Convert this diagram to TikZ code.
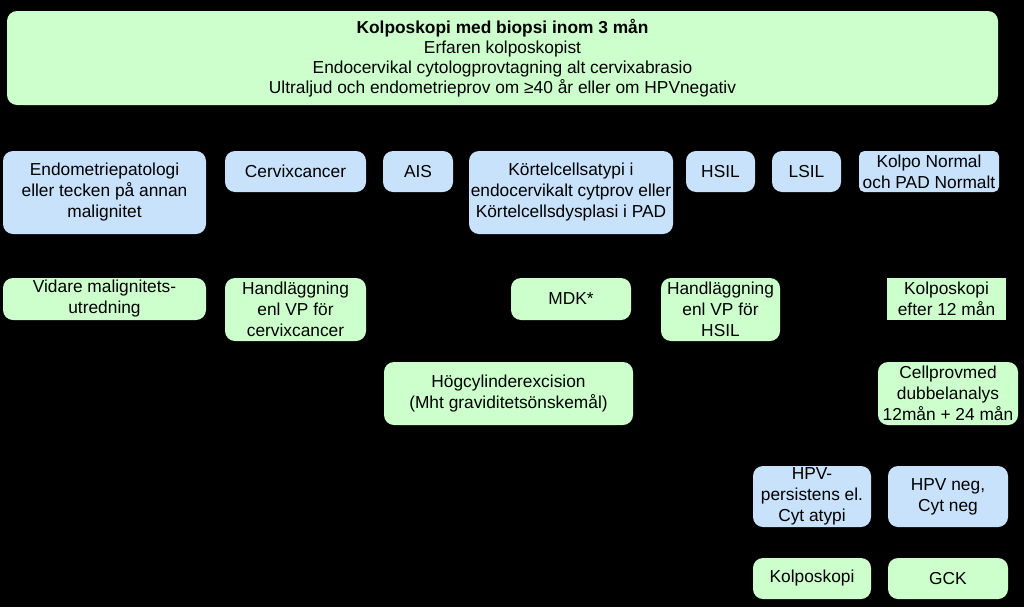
\documentclass[tikz,border=0pt]{standalone}
\usepackage{fontspec}
\setmainfont{Liberation Sans}
\usetikzlibrary{positioning}
\definecolor{boxgreen}{RGB}{204,255,204}
\definecolor{boxblue}{RGB}{200,226,252}
\tikzset{
  box/.style={inner sep=0pt, align=center, rounded corners=7.5pt, text=black,
    font=\fontsize{13}{15.75}\selectfont},
  greenbox/.style={box, fill=boxgreen},
  bluebox/.style={box, fill=boxblue},
}

\begin{document}
\begin{tikzpicture}[x=0.75pt,y=-0.75pt]
\fill[black] (0,0) rectangle (1024,607);
\useasboundingbox (0,0) rectangle (1024,607);

\node[greenbox, minimum width=991*0.75pt, minimum height=94*0.75pt,
  font=\fontsize{13}{14.9}\selectfont] (biopsi) at (502.5,58)
  {\textbf{Kolposkopi med biopsi inom 3 mån}\\Erfaren kolposkopist\\
   Endocervikal cytologprovtagning alt cervixabrasio\\
   Ultraljud och endometrieprov om ≥40 år eller om HPVnegativ};

% fynd
\node[bluebox, minimum width=203*0.75pt, minimum height=83*0.75pt] (endo) at (104.5,192.5)
  {Endometriepatologi\\eller tecken på annan\\malignitet};
\node[bluebox, minimum width=141*0.75pt, minimum height=41*0.75pt] (cervix) at (295.5,171.5) {Cervixcancer};
\node[bluebox, minimum width=70*0.75pt, minimum height=41*0.75pt] (ais) at (418,171.5) {AIS};
\node[bluebox, minimum width=204*0.75pt, minimum height=83*0.75pt] (kortel) at (571,192.5)
  {Körtelcellsatypi i\\endocervikalt cytprov eller\\Körtelcellsdysplasi i PAD};
\node[bluebox, minimum width=69*0.75pt, minimum height=41*0.75pt] (hsil) at (720.5,171.5) {HSIL};
\node[bluebox, minimum width=69*0.75pt, minimum height=41*0.75pt] (lsil) at (806.5,171.5) {LSIL};
\node[bluebox, rounded corners=4pt, minimum width=140*0.75pt, minimum height=41*0.75pt] (normal) at (929,171.5)
  {Kolpo Normal\\och PAD Normalt};

% atgard
\node[greenbox, minimum width=203*0.75pt, minimum height=42*0.75pt] (vidare) at (104.5,299)
  {Vidare malignitets-\\utredning};
\node[greenbox, minimum width=141*0.75pt, minimum height=63*0.75pt] (vpcancer) at (295.5,309.5)
  {Handläggning\\enl VP för\\cervixcancer};
\node[greenbox, minimum width=120*0.75pt, minimum height=42*0.75pt] (mdk) at (571,299) {MDK*};
\node[greenbox, minimum width=119*0.75pt, minimum height=63*0.75pt] (vphsil) at (720.5,309.5)
  {Handläggning\\enl VP för\\HSIL};
\node[greenbox, rounded corners=0pt, minimum width=119*0.75pt, minimum height=42*0.75pt] (kolpo12) at (946.5,299)
  {Kolposkopi\\efter 12 mån};

\node[greenbox, minimum width=249*0.75pt, minimum height=63*0.75pt] (excision) at (508.5,393.5)
  {Högcylinderexcision\\(Mht graviditetsönskemål)};
\node[greenbox, minimum width=140*0.75pt, minimum height=63*0.75pt] (cellprov) at (948,393.5)
  {Cellprovmed\\dubbelanalys\\12mån + 24 mån};

% uppfoljning
\node[bluebox, minimum width=118*0.75pt, minimum height=61*0.75pt] (hpvpos) at (812,496.5)
  {HPV-\\persistens el.\\Cyt atypi};
\node[bluebox, minimum width=120*0.75pt, minimum height=61*0.75pt] (hpvneg) at (948,496.5)
  {HPV neg,\\Cyt neg};
\node[greenbox, minimum width=118*0.75pt, minimum height=41*0.75pt] (kolpo) at (812,578.5) {Kolposkopi};
\node[greenbox, minimum width=120*0.75pt, minimum height=41*0.75pt] (gck) at (948,578.5) {GCK};

\end{tikzpicture}
\end{document}
